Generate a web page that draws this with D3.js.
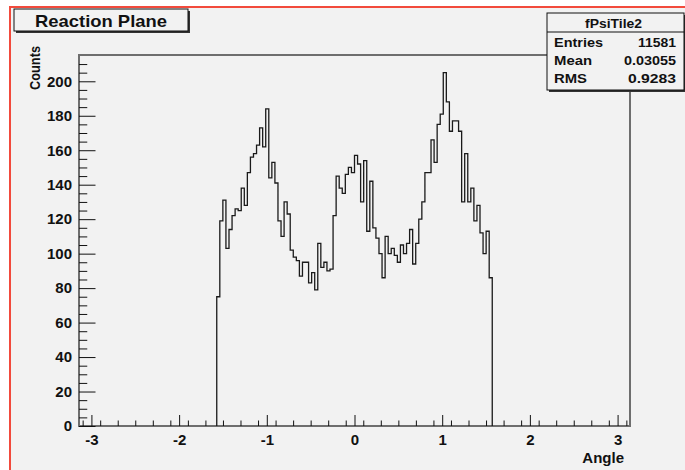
<!DOCTYPE html>
<html>
<head>
<meta charset="utf-8">
<script src="https://cdn.jsdelivr.net/npm/d3@7"></script>
<style>
  body { margin: 0; background: #fff; }
  svg text { font-family: "Liberation Sans", Arial, sans-serif; font-weight: bold; }
</style>
</head>
<body>
<div id="chart"></div>
<script>
// fPsiTile2: 90 bins between -pi/2 and pi/2
var counts = [75, 119, 131, 103, 114, 122, 126, 125, 138, 128,
              147, 156, 158, 163, 173, 162, 184, 144, 153, 141,
              119, 110, 130, 123, 102, 98, 96, 87, 95, 95,
              83, 89, 79, 106, 92, 95, 90, 91, 122, 145,
              138, 135, 146, 150, 147, 157, 152, 130, 154, 113,
              142, 115, 109, 100, 86, 110, 100, 103, 99, 95,
              105, 100, 106, 114, 94, 106, 120, 130, 147, 147,
              166, 153, 175, 181, 205, 188, 171, 177, 177, 171,
              130, 158, 130, 138, 119, 128, 112, 100, 113, 86];
var histLow = -Math.PI / 2;
var histHigh = Math.PI / 2;

var xTicks = [-3, -2, -1, 0, 1, 2, 3];
var yTicks = [0, 20, 40, 60, 80, 100, 120, 140, 160, 180, 200];

var statNames = ["Entries", "Mean", "RMS"];
var statValues = ["11581", "0.03055", "0.9283"];
// rendered widths in the picture (ROOT's font is wider than Arial)
var nameLen = [49, 38, 33];
var valueLen = [38, 52, 48];

var width = 685;
var height = 470;

var svg = d3.select('#chart')
            .append('svg')
            .attr('width', width)
            .attr('height', height);

// pad
svg.append('rect')
   .attr('x', 10).attr('y', 7)
   .attr('width', width - 10).attr('height', height - 7)
   .attr('fill', '#f2f2f2');
svg.append('path')
   .attr('d', 'M10,470 L10,7 L685,7')
   .attr('fill', 'none')
   .attr('stroke', '#f24a3c')
   .attr('stroke-width', 2);

var x = d3.scaleLinear().domain([-Math.PI, Math.PI]).range([79, 630]);
var y = d3.scaleLinear().domain([0, 215.25]).range([426, 55]);

// frame
svg.append('rect')
   .attr('x', x(-Math.PI)).attr('y', y(215.25))
   .attr('width', x(Math.PI) - x(-Math.PI))
   .attr('height', y(0) - y(215.25))
   .attr('fill', 'none')
   .attr('stroke', '#6e6e6e')
   .attr('stroke-width', 2);

// histogram outline
var step = (histHigh - histLow) / counts.length;
var pts = [[histLow, 0]];
counts.forEach(function(c, i){ pts.push([histLow + i * step, c]); });
pts.push([histHigh, 0]);

var line = d3.line()
             .x(function(d){ return x(d[0]); })
             .y(function(d){ return y(d[1]); })
             .curve(d3.curveStepAfter);

svg.append('path')
   .attr('d', line(pts))
   .attr('fill', 'none')
   .attr('stroke', '#1a1a1a')
   .attr('stroke-width', 1.3);

// axes, ticks inside the frame like ROOT
var xMinor = d3.range(-31, 32, 2).map(function(d){ return d / 10; })
               .filter(function(d){ return Math.abs(d) <= Math.PI && Math.round(d * 10) % 10 != 0; });
var yMinor = d3.range(5, 215, 5).filter(function(d){ return d % 20 != 0; });

svg.append('g')
   .attr('transform', 'translate(0,' + y(0) + ')')
   .call(d3.axisBottom(x).tickValues(xMinor).tickSize(-5.5).tickFormat(''));
var gx = svg.append('g')
   .attr('transform', 'translate(0,' + y(0) + ')')
   .call(d3.axisBottom(x).tickValues(xTicks).tickSize(-11).tickPadding(8)
           .tickFormat(function(d){ return String(d); }));

svg.append('g')
   .attr('transform', 'translate(' + x(-Math.PI) + ',0)')
   .call(d3.axisLeft(y).tickValues(yMinor).tickSize(-8.25).tickFormat(''));
var gy = svg.append('g')
   .attr('transform', 'translate(' + x(-Math.PI) + ',0)')
   .call(d3.axisLeft(y).tickValues(yTicks).tickSize(-16.5).tickPadding(7)
           .tickFormat(function(d){ return String(d); }));

svg.selectAll('.domain').remove();
svg.selectAll('.tick line').attr('stroke', '#111');
gx.selectAll('text').attr('font-size', 15).attr('fill', '#111');
gy.selectAll('text').attr('font-size', 15).attr('fill', '#111');

// axis titles
svg.append('text')
   .attr('x', 624).attr('y', 463)
   .attr('text-anchor', 'end')
   .attr('font-size', 15)
   .attr('fill', '#111')
   .text('Angle');
svg.append('text')
   .attr('transform', 'translate(40,90) rotate(-90)')
   .attr('font-size', 15)
   .attr('textLength', 44)
   .attr('lengthAdjust', 'spacingAndGlyphs')
   .attr('fill', '#111')
   .text('Counts');

// title box
svg.append('rect')
   .attr('x', 16).attr('y', 11).attr('width', 174).attr('height', 22)
   .attr('fill', '#333');
svg.append('rect')
   .attr('x', 14).attr('y', 9).attr('width', 174).attr('height', 22)
   .attr('fill', '#f2f2f2')
   .attr('stroke', '#111').attr('stroke-width', 1);
svg.append('text')
   .attr('x', 35).attr('y', 27)
   .attr('font-size', 17)
   .attr('textLength', 132)
   .attr('lengthAdjust', 'spacingAndGlyphs')
   .attr('fill', '#111')
   .text('Reaction Plane');

// stats box
svg.append('rect')
   .attr('x', 549).attr('y', 15).attr('width', 137).attr('height', 77)
   .attr('fill', '#333');
svg.append('rect')
   .attr('x', 547).attr('y', 13).attr('width', 137).attr('height', 77)
   .attr('fill', '#f2f2f2')
   .attr('stroke', '#111').attr('stroke-width', 1);
svg.append('line')
   .attr('x1', 547).attr('x2', 684).attr('y1', 32).attr('y2', 32)
   .attr('stroke', '#111');
svg.append('text')
   .attr('x', 585).attr('y', 28)
   .attr('font-size', 13)
   .attr('textLength', 57)
   .attr('lengthAdjust', 'spacingAndGlyphs')
   .attr('fill', '#111')
   .text('fPsiTile2');

var rows = svg.selectAll('.stat')
              .data(statNames)
              .enter()
              .append('g');
rows.append('text')
    .attr('x', 554)
    .attr('y', function(d, i){ return 47 + i * 18; })
    .attr('font-size', 13)
    .attr('textLength', function(d, i){ return nameLen[i]; })
    .attr('lengthAdjust', 'spacingAndGlyphs')
    .attr('fill', '#111')
    .text(function(d){ return d; });
rows.append('text')
    .attr('x', function(d, i){ return 676 - valueLen[i]; })
    .attr('y', function(d, i){ return 47 + i * 18; })
    .attr('font-size', 13)
    .attr('textLength', function(d, i){ return valueLen[i]; })
    .attr('lengthAdjust', 'spacingAndGlyphs')
    .attr('fill', '#111')
    .text(function(d, i){ return statValues[i]; });
</script>
</body>
</html>
